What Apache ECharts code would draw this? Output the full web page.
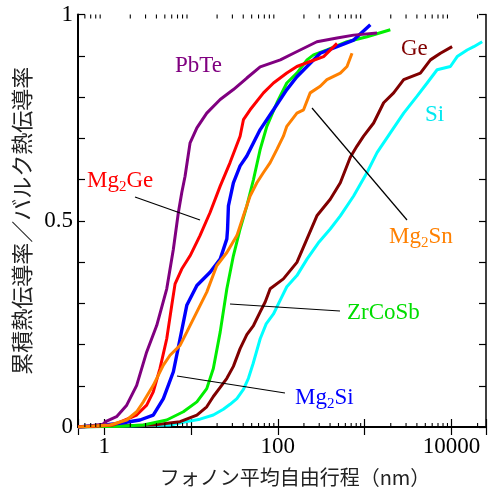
<!DOCTYPE html>
<html><head><meta charset="utf-8">
<script src="https://cdn.jsdelivr.net/npm/echarts@6/dist/echarts.min.js"></script>
<style>html,body{margin:0;padding:0;background:#fff;}#c{width:490px;height:492px;}</style>
</head><body><div id="c"></div>
<script>
// ---- data (x: phonon MFP in nm, y: cumulative / bulk thermal conductivity) ----
const pbteX = [0.5, 0.7, 0.97, 1.07, 1.39, 1.82, 2.37, 3.09, 4.03, 5.26, 6.27, 7.16, 7.83, 8.55, 9.77, 11.7, 15.2, 21.7, 30.8, 44.0, 62.7, 107, 152, 282, 481, 747, 1390];
const pbteY = [0, 0.003, 0.007, 0.0145, 0.025, 0.053, 0.101, 0.182, 0.246, 0.335, 0.431, 0.520, 0.568, 0.608, 0.689, 0.725, 0.761, 0.794, 0.818, 0.846, 0.873, 0.890, 0.906, 0.934, 0.943, 0.950, 0.955];

const mg2geX = [0.5, 0.8, 1.27, 2.37, 3.09, 3.68, 4.40, 5.26, 6.01, 6.56, 7.83, 9.77, 12.7, 16.6, 21.7, 28.2, 36.8, 40.2, 48.0, 68.4, 89.2, 127, 166, 236, 337, 481];
const mg2geY = [0, 0.002, 0.005, 0.029, 0.053, 0.085, 0.142, 0.214, 0.295, 0.347, 0.383, 0.415, 0.464, 0.520, 0.584, 0.641, 0.705, 0.745, 0.769, 0.810, 0.834, 0.858, 0.874, 0.886, 0.898, 0.930];

const mg2siX = [0.5, 0.9, 1.52, 2.59, 3.68, 4.81, 6.27, 7.49, 8.95, 11.7, 16.6, 21.7, 25.9, 26.4, 27.0, 30.8, 36.8, 44.0, 52.5, 62.7, 89.2, 127, 166, 217, 308, 481, 747, 1164];
const mg2siY = [0, 0.004, 0.009, 0.017, 0.029, 0.069, 0.134, 0.214, 0.295, 0.343, 0.375, 0.407, 0.456, 0.480, 0.536, 0.592, 0.633, 0.657, 0.689, 0.721, 0.769, 0.818, 0.849, 0.874, 0.906, 0.922, 0.938, 0.975];

const zrcosbX = [0.5, 1.52, 2.83, 5.26, 8.17, 11.7, 15.2, 18.1, 21.7, 25.9, 30.8, 36.8, 44.0, 52.5, 62.7, 74.8, 97.7, 127, 166, 217, 258, 368, 627, 1066, 1977];
const zrcosbY = [0, 0.002, 0.005, 0.017, 0.037, 0.061, 0.093, 0.142, 0.230, 0.335, 0.415, 0.480, 0.536, 0.600, 0.673, 0.729, 0.786, 0.834, 0.858, 0.890, 0.902, 0.914, 0.934, 0.946, 0.963];

const mg2snX = [0.5, 1.17, 1.82, 2.37, 2.83, 3.68, 4.81, 5.74, 7.49, 8.95, 11.7, 15.2, 19.8, 25.9, 33.8, 40.2, 48.0, 57.4, 68.4, 81.7, 97.7, 116, 127, 166, 198, 236, 308, 368, 525, 627, 716];
const mg2snY = [0, 0.005, 0.017, 0.037, 0.061, 0.101, 0.150, 0.174, 0.198, 0.230, 0.279, 0.327, 0.391, 0.423, 0.464, 0.512, 0.560, 0.592, 0.617, 0.641, 0.673, 0.705, 0.729, 0.761, 0.769, 0.810, 0.826, 0.842, 0.858, 0.874, 0.906];

const geX = [0.5, 3.68, 7.49, 11.7, 15.2, 18.1, 21.7, 25.9, 30.8, 36.8, 44.0, 52.5, 62.7, 71.6, 81.7, 116, 166, 217, 282, 402, 525, 684, 817, 973, 1270, 1656, 2160, 2818, 4387, 5727, 7464, 10180];
const geY = [0, 0.005, 0.013, 0.029, 0.049, 0.074, 0.096, 0.118, 0.147, 0.190, 0.224, 0.246, 0.279, 0.303, 0.335, 0.359, 0.399, 0.456, 0.512, 0.552, 0.592, 0.654, 0.681, 0.705, 0.737, 0.786, 0.810, 0.842, 0.858, 0.890, 0.906, 0.922];

const siX = [0.5, 5.74, 8.95, 12.7, 18.1, 23.6, 28.2, 33.8, 40.2, 45.9, 52.0, 62.7, 73.5, 89.2, 107, 127, 166, 217, 292, 402, 525, 747, 1066, 1390, 1977, 2818, 4018, 5248, 6839, 9727, 11640, 15170, 18070, 22590];
const siY = [0, 0.005, 0.013, 0.019, 0.029, 0.043, 0.055, 0.069, 0.091, 0.118, 0.154, 0.214, 0.250, 0.274, 0.308, 0.340, 0.367, 0.407, 0.446, 0.480, 0.512, 0.560, 0.617, 0.665, 0.713, 0.761, 0.802, 0.834, 0.866, 0.874, 0.898, 0.914, 0.922, 0.934];

const xMajorLabels = [1, 100, 10000];
const yMajorLabels = [0, 0.5, 1];
const xMinorTicks = [0.6, 0.7, 0.8, 0.9, 2, 3, 4, 5, 6, 7, 8, 9, 20, 30, 40, 50, 60, 70, 80, 90, 200, 300, 400, 500, 600, 700, 800, 900, 2000, 3000, 4000, 5000, 6000, 7000, 8000, 9000, 20000];

const xTitle = 'フォノン平均自由行程（nm）';
const yTitle = '累積熱伝導率／バルク熱伝導率';

function zip(xs, ys) { return xs.map((x, i) => [x, ys[i]]); }

const serif = 'Liberation Serif';
const jp = 'Noto Sans CJK JP';

const chart = echarts.init(document.getElementById('c'), null, {renderer: 'canvas'});

function lineSeries(name, xs, ys, color, w) {
  return {
    name, type: 'line', data: zip(xs, ys), showSymbol: false, symbol: 'none',
    lineStyle: {color, width: w || 3}, itemStyle: {color}, animation: false, z: 3
  };
}

function fmtX(v) {
  for (const m of xMajorLabels) { if (Math.abs(v - m) / m < 1e-6) return String(m); }
  return '';
}
function fmtY(v) {
  for (const m of yMajorLabels) { if (Math.abs(v - m) < 1e-6) return String(m); }
  return '';
}

const axisLabelStyle = {fontFamily: serif, fontSize: 23, color: '#000'};

const option = {
  animation: false,
  backgroundColor: '#fff',
  grid: {left: 78, right: 4, top: 14.5, bottom: 63.3, containLabel: false},
  xAxis: [
    {type: 'log', logBase: 10, min: 0.5, max: 25000, position: 'bottom',
     axisLine: {show: true, lineStyle: {color: '#000', width: 2}},
     axisTick: {show: true, inside: true, length: 8, lineStyle: {color: '#000', width: 1.2}},
     axisLabel: {show: true, formatter: fmtX, margin: 8, ...axisLabelStyle},
     splitLine: {show: false},
     name: xTitle, nameLocation: 'middle', nameGap: 40,
     nameTextStyle: {fontFamily: jp, fontSize: 20, color: '#222', padding: [0, 0, 0, 26]}},
    {type: 'log', logBase: 10, min: 0.5, max: 25000, position: 'top',
     axisLine: {show: true, lineStyle: {color: '#000', width: 1.5}},
     axisTick: {show: true, inside: true, length: 8, lineStyle: {color: '#000', width: 1.2}},
     axisLabel: {show: false}, splitLine: {show: false}}
  ],
  yAxis: [
    {type: 'value', min: 0, max: 1, interval: 0.1, position: 'left',
     axisLine: {show: true, lineStyle: {color: '#000', width: 2}},
     axisTick: {show: true, inside: true, length: 7, lineStyle: {color: '#000', width: 1.2}},
     axisLabel: {show: true, formatter: fmtY, margin: 5, ...axisLabelStyle},
     splitLine: {show: false},
     name: yTitle, nameLocation: 'middle', nameGap: 45, nameRotate: 90,
     nameTextStyle: {fontFamily: jp, fontSize: 22, color: '#222'}},
    {type: 'value', min: 0, max: 1, interval: 0.1, position: 'right',
     axisLine: {show: true, lineStyle: {color: '#000', width: 1.5}},
     axisTick: {show: true, inside: true, length: 7, lineStyle: {color: '#000', width: 1.2}},
     axisLabel: {show: false}, splitLine: {show: false}}
  ],
  series: [
    {
      type: 'custom', name: 'minorTicks', data: xMinorTicks.map(v => [v, 0]), z: 5, silent: true,
      clip: false, animation: false,
      renderItem: function (params, api) {
        const p = api.coord([api.value(0), 0]);
        const cs = params.coordSys;
        const st = {stroke: '#000', lineWidth: 1.1};
        return {type: 'group', children: [
          {type: 'line', shape: {x1: p[0], y1: cs.y + cs.height, x2: p[0], y2: cs.y + cs.height - 4}, style: st},
          {type: 'line', shape: {x1: p[0], y1: cs.y, x2: p[0], y2: cs.y + 4}, style: st}
        ]};
      }
    },
    lineSeries('Si', siX, siY, '#00ffff'),
    lineSeries('Ge', geX, geY, '#800000'),
    lineSeries('ZrCoSb', zrcosbX, zrcosbY, '#00ee00'),
    lineSeries('Mg2Si', mg2siX, mg2siY, '#0000ff', 3.4),
    lineSeries('PbTe', pbteX, pbteY, '#800080'),
    lineSeries('Mg2Ge', mg2geX, mg2geY, '#ff0000'),
    lineSeries('Mg2Sn', mg2snX, mg2snY, '#ff8000')
  ],
  graphic: []
};

function lbl(x, y, text, color) {
  return {type: 'text', x, y, z: 10, silent: true,
    style: {text, fill: color, font: '23px "Liberation Serif"', verticalAlign: 'middle', align: 'left',
      rich: {sub: {fontSize: 15, fontFamily: serif, fill: color, padding: [12, 0, 0, 0]}}}};
}
function lead(x1, y1, x2, y2) {
  return {type: 'line', z: 9, silent: true, shape: {x1, y1, x2, y2}, style: {stroke: '#000', lineWidth: 1.2}};
}
option.graphic = [
  lbl(175, 66, 'PbTe', '#800080'),
  lbl(87, 181, 'Mg{sub|2}Ge', '#ff0000'),
  lbl(401, 49, 'Ge', '#800000'),
  lbl(425, 115, 'Si', '#00e8f0'),
  lbl(389, 237, 'Mg{sub|2}Sn', '#ff8000'),
  lbl(347, 313, 'ZrCoSb', '#00dd00'),
  lbl(295, 398, 'Mg{sub|2}Si', '#0000ff'),
  lead(135, 197, 200, 220),
  lead(312, 108, 407, 220),
  lead(230, 304, 340, 311),
  lead(177, 376, 285, 393)
];

chart.setOption(option);
</script>
</body></html>
